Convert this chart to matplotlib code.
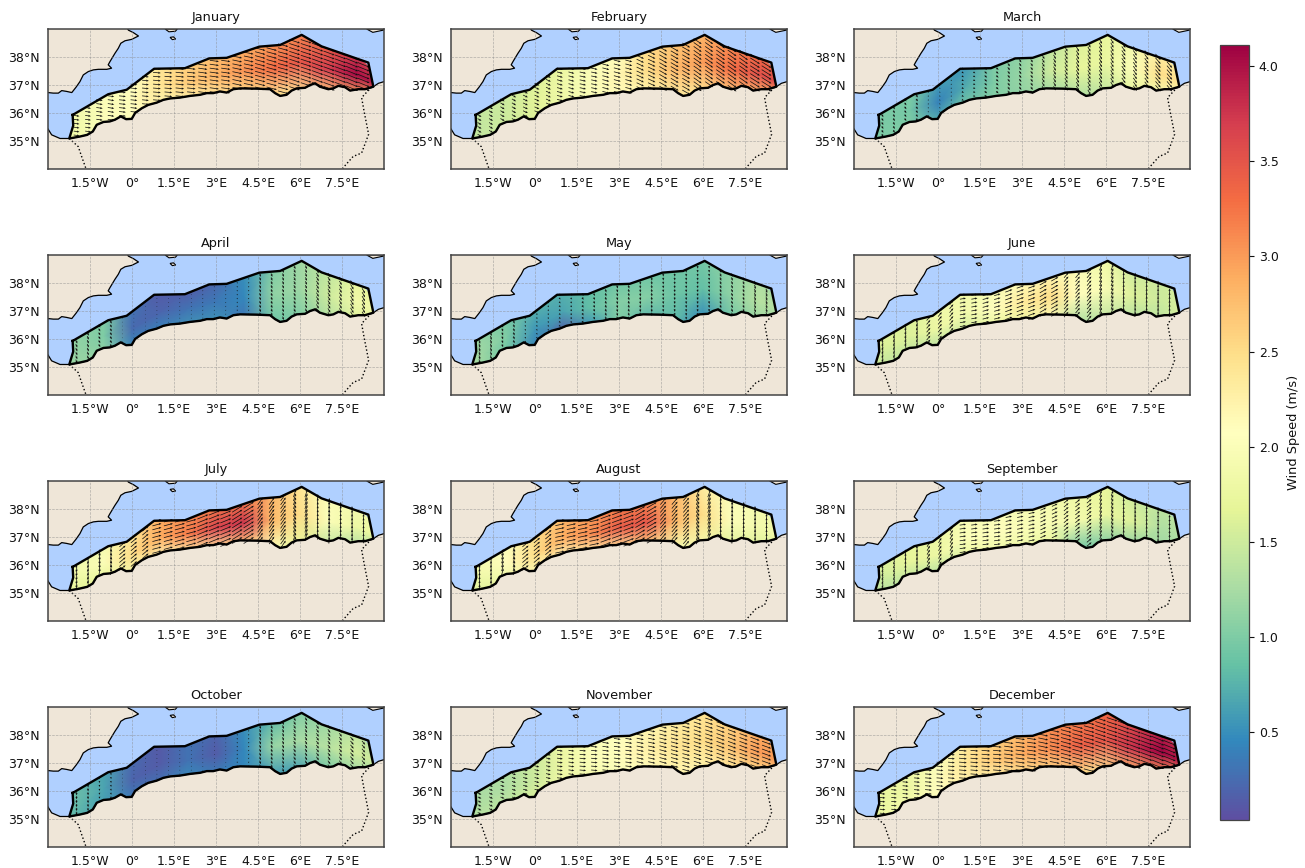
import numpy as np
import matplotlib
matplotlib.use('Agg')
import matplotlib.pyplot as plt
from matplotlib.path import Path
from matplotlib.patches import Polygon

months = ['January', 'February', 'March', 'April', 'May', 'June', 'July',
          'August', 'September', 'October', 'November', 'December']

# shoreline and zone outline, lon/lat
north_lon = [-2.12, -0.85, -0.19, 0.79, 1.89, 2.76, 3.38, 4.55, 5.29, 6.06, 6.77, 8.44, 8.62]
north_lat = [35.93, 36.67, 36.83, 37.58, 37.60, 37.95, 37.97, 38.37, 38.43, 38.79, 38.38, 37.80, 36.94]
south_lon = [-2.24, -1.86, -1.60, -1.40, -1.26, -1.02, -0.79, -0.61, -0.40, -0.21, -0.01, 0.11, 0.35,
             0.58, 0.88, 1.12, 1.36, 1.71, 2.07, 2.43, 2.67, 2.90, 3.14, 3.38, 3.62, 3.86, 4.45, 4.93,
             5.11, 5.29, 5.52, 5.70, 5.88, 6.18, 6.36, 6.54, 6.71, 7.01, 7.19, 7.37, 7.61, 7.79, 8.08,
             8.32, 8.62]
south_lat = [35.09, 35.16, 35.22, 35.34, 35.58, 35.68, 35.70, 35.76, 35.88, 35.78, 35.79, 36.00, 36.17,
             36.29, 36.37, 36.47, 36.52, 36.55, 36.61, 36.65, 36.71, 36.71, 36.77, 36.73, 36.85, 36.88,
             36.87, 36.85, 36.71, 36.61, 36.65, 36.80, 36.88, 36.90, 37.00, 37.06, 36.94, 36.85, 36.88,
             36.97, 36.92, 36.80, 36.85, 36.85, 36.94]
west_lon = [-2.10]
west_lat = [35.55]
spain_lon = [-3.0, -2.81, -2.63, -2.51, -2.33, -2.15, -2.0, -1.86, -1.74, -1.56, -1.38, -1.20, -0.90,
             -0.73, -0.85, -0.79, -0.61, -0.49, -0.40, -0.25, -0.01, 0.23, 0.05, -0.13, -0.15]
spain_lat = [36.73, 36.71, 36.71, 36.80, 36.77, 36.73, 36.92, 37.12, 37.36, 37.48, 37.54, 37.56, 37.56,
             37.60, 37.72, 37.83, 38.13, 38.31, 38.49, 38.58, 38.63, 38.75, 38.87, 38.96, 39.0]
africa_w_lon = [-3.0, -2.87, -2.57]
africa_w_lat = [35.43, 35.22, 35.09]
africa_e_lon = [8.8, 9.0]
africa_e_lat = [37.06, 37.12]
isle1_lon = [1.18, 1.32, 1.55, 1.62]
isle1_lat = [39.0, 38.90, 38.92, 39.0]
isle2_lon = [1.36, 1.48, 1.56, 1.44]
isle2_lat = [38.70, 38.72, 38.64, 38.62]
isle3_lon = [8.38, 8.6, 8.98, 9.0]
isle3_lat = [39.0, 38.88, 38.96, 39.0]
border1_lon = [-2.24, -1.92, -1.8, -1.64]
border1_lat = [35.09, 34.80, 34.45, 34.0]
border2_lon = [8.55, 8.2, 8.3, 8.45, 8.2, 7.9, 7.5]
border2_lat = [36.92, 36.55, 36.0, 35.24, 34.57, 34.45, 34.0]

# speed (m/s) along the zone at these longitudes
node_lon = [-2, -1, 0, 1, 2, 3, 4, 5, 6, 7, 8, 8.7]

speed_january = [[1.8, 2.0, 2.1, 2.2, 2.2, 2.3, 2.5, 2.4, 2.4, 2.6, 2.9, 3.0],
                 [1.8, 2.0, 2.1, 2.4, 2.65, 2.85, 3.05, 3.3, 3.5, 3.7, 4.05, 3.9],
                 [1.9, 2.0, 2.05, 2.4, 2.6, 2.75, 2.85, 3.0, 3.1, 3.4, 3.7, 3.6]]
speed_february = [[1.4, 1.5, 1.6, 1.8, 2.0, 2.1, 2.2, 2.3, 2.4, 2.6, 2.8, 2.9],
                  [1.4, 1.5, 1.65, 1.85, 2.0, 2.2, 2.5, 2.8, 3.0, 3.3, 3.55, 3.6],
                  [1.4, 1.5, 1.6, 1.75, 2.0, 2.1, 2.5, 2.7, 2.8, 3.1, 3.3, 3.4]]
speed_march = [[1.0, 1.0, 0.75, 0.95, 1.05, 1.1, 1.2, 1.3, 1.4, 1.7, 1.9, 2.0],
               [1.0, 0.95, 0.42, 0.7, 1.0, 1.15, 1.5, 1.7, 1.75, 2.0, 2.5, 2.4],
               [1.0, 1.0, 0.6, 0.55, 1.0, 1.1, 1.4, 1.6, 1.7, 1.9, 2.3, 2.4]]
speed_april = [[1.2, 1.1, 0.5, 0.45, 0.55, 0.55, 0.3, 0.9, 1.0, 1.3, 1.6, 1.7],
               [1.2, 1.0, 0.25, 0.2, 0.3, 0.35, 0.45, 1.1, 1.2, 1.5, 1.85, 1.8],
               [1.2, 1.0, 0.3, 0.12, 0.12, 0.2, 0.5, 1.0, 1.2, 1.4, 1.7, 1.7]]
speed_may = [[1.4, 0.9, 0.4, 0.12, 0.5, 1.0, 0.75, 0.8, 0.45, 0.9, 1.2, 1.2],
             [1.3, 1.0, 0.55, 0.65, 0.85, 1.05, 1.05, 0.9, 0.85, 1.1, 1.35, 1.3],
             [1.2, 0.95, 0.75, 0.75, 0.85, 0.9, 0.9, 0.9, 0.95, 1.1, 1.3, 1.2]]
speed_june = [[1.5, 1.4, 1.3, 1.5, 1.7, 1.8, 2.0, 1.3, 1.4, 1.3, 1.4, 1.6],
              [1.6, 1.6, 1.8, 1.9, 2.05, 2.35, 2.5, 2.1, 1.95, 1.6, 1.5, 1.6],
              [1.6, 1.6, 1.85, 1.85, 1.95, 2.1, 2.2, 2.0, 1.8, 1.5, 1.5, 1.6]]
speed_july = [[1.7, 1.7, 1.9, 2.1, 2.2, 2.3, 2.6, 2.0, 1.7, 1.4, 1.3, 1.4],
              [1.8, 2.0, 2.5, 2.9, 3.2, 3.65, 3.75, 2.8, 2.5, 2.0, 1.8, 1.7],
              [1.8, 1.9, 2.4, 2.9, 3.1, 3.2, 3.2, 2.8, 2.4, 2.0, 1.9, 1.8]]
speed_august = [[1.6, 1.8, 2.0, 2.1, 2.2, 2.3, 2.6, 1.9, 1.9, 1.6, 1.6, 1.6],
                [1.8, 2.1, 2.5, 2.9, 3.1, 3.45, 3.5, 2.8, 2.5, 2.0, 1.9, 1.8],
                [1.9, 2.0, 2.5, 2.8, 3.0, 3.2, 3.1, 2.8, 2.3, 2.0, 1.9, 1.8]]
speed_september = [[1.4, 1.4, 1.3, 1.7, 1.8, 1.8, 1.7, 0.95, 1.0, 1.1, 1.2, 1.3],
                   [1.5, 1.7, 1.8, 2.0, 2.05, 2.0, 1.95, 1.9, 1.75, 1.6, 1.3, 1.3],
                   [1.6, 1.7, 1.8, 1.95, 2.0, 1.95, 1.9, 1.8, 1.7, 1.5, 1.4, 1.4]]
speed_october = [[0.9, 0.6, 0.4, 0.3, 0.5, 0.4, 0.45, 0.6, 0.6, 0.9, 1.2, 1.3],
                 [1.0, 0.65, 0.2, 0.15, 0.3, 0.15, 0.45, 1.15, 1.25, 1.35, 1.55, 1.5],
                 [1.0, 0.65, 0.25, 0.12, 0.3, 0.2, 0.5, 0.8, 1.0, 1.2, 1.4, 1.3]]
speed_november = [[1.3, 1.4, 1.6, 1.85, 1.9, 2.0, 2.1, 2.2, 2.2, 2.3, 2.5, 2.6],
                  [1.25, 1.3, 1.5, 1.8, 2.0, 2.1, 2.25, 2.4, 2.5, 2.7, 3.0, 3.0],
                  [1.2, 1.3, 1.5, 1.8, 2.0, 2.05, 2.2, 2.3, 2.4, 2.6, 2.9, 3.0]]
speed_december = [[1.7, 1.9, 2.1, 2.2, 2.2, 2.4, 2.5, 2.5, 2.4, 2.8, 3.0, 3.0],
                  [1.7, 1.8, 2.1, 2.4, 2.65, 2.9, 3.1, 3.4, 3.5, 3.8, 4.1, 3.9],
                  [1.75, 1.8, 2.0, 2.4, 2.6, 2.8, 3.1, 3.2, 3.3, 3.6, 3.9, 3.7]]

# arrow direction in degrees from east, same longitudes
dir_january = [-8, -8, -6, -5, -6, -8, -12, -15, -18, -20, -22, -22]
dir_february = [-30, -30, -25, -15, -12, -15, -25, -30, -35, -35, -32, -35]
dir_march = [-60, -55, -40, -30, -40, -55, -60, -60, -60, -55, -50, -50]
dir_april = [-65, -60, -50, -40, -60, -80, -75, -70, -65, -60, -60, -60]
dir_may = [-75, -70, -60, -50, -60, -75, -85, -85, -80, -70, -75, -75]
dir_june = [100, 100, 50, 10, 15, 20, 30, 50, 70, 85, 90, 90]
dir_july = [100, 80, 40, 15, 15, 22, 32, 55, 72, 85, 92, 92]
dir_august = [95, 75, 40, 12, 12, 20, 30, 50, 70, 85, 92, 92]
dir_september = [100, 95, 60, 8, 8, 12, 25, 40, 70, 85, 92, 92]
dir_october = [-85, -80, -70, -60, -70, -80, -75, -70, -60, -55, -50, -50]
dir_november = [-25, -20, -15, -8, -5, -8, -12, -15, -18, -20, -20, -20]
dir_december = [-5, -5, -5, -5, -5, -8, -12, -15, -18, -20, -22, -22]

speeds = [speed_january, speed_february, speed_march, speed_april, speed_may, speed_june,
          speed_july, speed_august, speed_september, speed_october, speed_november, speed_december]
dirs = [dir_january, dir_february, dir_march, dir_april, dir_may, dir_june,
        dir_july, dir_august, dir_september, dir_october, dir_november, dir_december]

cbar_ticks = [0.5, 1.0, 1.5, 2.0, 2.5, 3.0, 3.5, 4.0]
vmin, vmax = 0.04, 4.11

land_col = '#efe6d8'
sea_col = '#b0d0ff'
W, H = 1305, 868

fig = plt.figure(figsize=(W / 100, H / 100), dpi=100)

# zone outline, clockwise from the west end
zone_lon = north_lon + south_lon[::-1] + west_lon + [north_lon[0]]
zone_lat = north_lat + south_lat[::-1] + west_lat + [north_lat[0]]
zone_path = Path(np.column_stack([zone_lon, zone_lat]))

# mesh follows the strip: south edge, middle, north edge
nodes = np.array(node_lon)
edge_s = np.interp(nodes, south_lon, south_lat) - 0.2
edge_n = np.interp(nodes, north_lon, north_lat) + 0.15
mesh_x = np.vstack([nodes, nodes, nodes])
mesh_x[:, 0] -= 0.6
mesh_x[:, -1] += 0.3
mesh_y = np.vstack([edge_s, (edge_s + edge_n) / 2, edge_n])

# arrow positions
gx, gy = np.meshgrid(np.arange(-1.98, 8.75, 0.41), np.arange(35.06, 38.8, 0.14))
inside = zone_path.contains_points(np.column_stack([gx.ravel(), gy.ravel()]))
qx = gx.ravel()[inside]
qy = gy.ravel()[inside]
nearest = np.abs(qx[:, None] - nodes[None, :]).argmin(axis=1)

for i, name in enumerate(months):
    col = i % 3
    row = i // 3
    left = [48, 451, 854][col]
    top = [29, 255, 481, 707][row]
    ax = fig.add_axes([left / W, 1 - (top + 140) / H, 336 / W, 140 / H])
    ax.set_facecolor(sea_col)

    ax.fill(spain_lon + [-3.0], spain_lat + [39.0], color=land_col, zorder=1, lw=0)
    africa_lon = africa_w_lon + south_lon + africa_e_lon + [9.0, -3.0]
    africa_lat = africa_w_lat + south_lat + africa_e_lat + [34.0, 34.0]
    ax.fill(africa_lon, africa_lat, color=land_col, zorder=1, lw=0)
    for lo, la in [(isle1_lon, isle1_lat), (isle2_lon, isle2_lat), (isle3_lon, isle3_lat)]:
        ax.fill(lo, la, facecolor=land_col, edgecolor='k', lw=0.8, zorder=2)
    ax.plot(spain_lon, spain_lat, color='k', lw=0.9, zorder=2)
    ax.plot(africa_lon[:-2], africa_lat[:-2], color='k', lw=0.9, zorder=2)
    ax.plot(border1_lon, border1_lat, color='k', lw=1.0, ls=':', zorder=2)
    ax.plot(border2_lon, border2_lat, color='k', lw=1.0, ls=':', zorder=2)

    ax.set_xlim(-3, 9)
    ax.set_ylim(34, 39)
    ax.set_xticks([-1.5, 0, 1.5, 3, 4.5, 6, 7.5])
    ax.set_xticklabels(['1.5°W', '0°', '1.5°E', '3°E', '4.5°E', '6°E', '7.5°E'])
    ax.set_yticks([35, 36, 37, 38])
    ax.set_yticklabels(['35°N', '36°N', '37°N', '38°N'])
    ax.tick_params(length=0, labelsize=9, pad=6, colors='#111111')
    ax.grid(color='#888888', ls='--', lw=0.5, alpha=0.6, zorder=1.5)
    ax.set_axisbelow(False)
    ax.set_title(name, fontsize=9.3, pad=6, color='#111111')
    for s in ax.spines.values():
        s.set_linewidth(1.1)
        s.set_edgecolor('#444444')

    z = np.array(speeds[i])
    pm = ax.pcolormesh(mesh_x, mesh_y, z, shading='gouraud', cmap='Spectral_r',
                       vmin=vmin, vmax=vmax, zorder=3)
    pm.set_clip_path(Polygon(zone_path.vertices, transform=ax.transData))

    ang = np.deg2rad(np.array(dirs[i])[nearest])
    spd = z[1][nearest]
    ax.quiver(qx, qy, spd * np.cos(ang), spd * np.sin(ang), angles='xy', scale_units='xy',
              scale=8.7, pivot='mid', width=0.0022, headwidth=3.0, headlength=3.4, headaxislength=3.0,
              color='#111111', zorder=4)

    ax.plot(zone_lon, zone_lat, color='k', lw=1.7, zorder=5, solid_joinstyle='round')

cax = fig.add_axes([1220 / W, 1 - 820 / H, 29 / W, 775 / H])
cb = fig.colorbar(pm, cax=cax, ticks=cbar_ticks)
cb.set_label('Wind Speed (m/s)', fontsize=9.3, labelpad=6, color='#111111')
cb.ax.tick_params(labelsize=9, length=3.5, width=0.8, colors='#111111')
cb.outline.set_edgecolor('#444444')
cb.outline.set_linewidth(0.9)

plt.savefig('out.png', dpi=100)
